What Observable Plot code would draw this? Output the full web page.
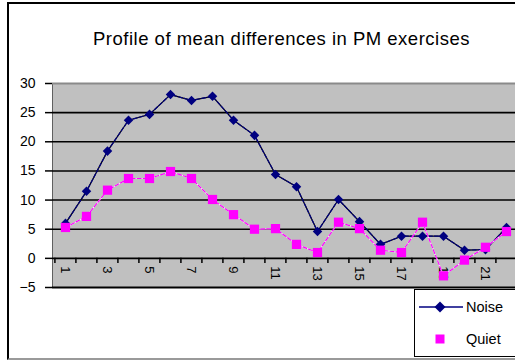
<!DOCTYPE html>
<html>
<head>
<meta charset="utf-8">
<script src="https://cdn.jsdelivr.net/npm/d3@7"></script>
<script src="https://cdn.jsdelivr.net/npm/@observablehq/plot@0.6"></script>
<style>
  html, body { margin: 0; padding: 0; background: white; overflow: hidden; }
  #wrap { position: relative; width: 515px; height: 360px; font-family: "Liberation Sans", Arial, sans-serif; }
  #border { position: absolute; left: 7px; top: 2px; width: 520px; height: 354px; border-left: 2px solid #000; border-top: 2px solid #000; border-bottom: 2px solid #9a9a9a; }
  #chart { position: absolute; left: 0; top: 0; }
  #legend { position: absolute; left: 414px; top: 289px; width: 120px; height: 66px; border: 1.5px solid #000; background: white; font-size: 14.5px; color: #000; }
  .item { position: absolute; left: 4px; display: flex; align-items: center; }
  .item span { margin-left: 3px; }
</style>
</head>
<body>
<div id="wrap">
  <div id="border"></div>
  <div id="chart"></div>
  <div id="legend"></div>
</div>
<script>
const title = "Profile of mean differences in PM exercises";
const categories = [1, 2, 3, 4, 5, 6, 7, 8, 9, 10, 11, 12, 13, 14, 15, 16, 17, 18, 19, 20, 21, 22];
const noise = [6.0, 11.5, 18.4, 23.7, 24.7, 28.1, 27.1, 27.8, 23.7, 21.1, 14.4, 12.3, 4.6, 10.1, 6.3, 2.4, 3.8, 3.8, 3.8, 1.4, 1.5, 5.3];
const quiet = [5.3, 7.2, 11.7, 13.7, 13.7, 14.9, 13.7, 10.1, 7.5, 5.0, 5.1, 2.4, 1.0, 6.2, 5.1, 1.4, 1.0, 6.2, -3.0, -0.3, 1.9, 4.6];
const xTickLabels = [1, 3, 5, 7, 9, 11, 13, 15, 17, 19, 21];
const yTicks = [-5, 0, 5, 10, 15, 20, 25, 30];
const seriesNames = ["Noise", "Quiet"];
const seriesColors = ["#000080", "#ff00ff"];

const noiseData = categories.map((c, i) => ({cat: c, value: noise[i]}));
const quietData = categories.map((c, i) => ({cat: c, value: quiet[i]}));
const step = (518 - 52) / categories.length;

const chart = Plot.plot({
  width: 515,
  height: 360,
  marginLeft: 52,
  marginRight: 0,
  marginTop: 83,
  marginBottom: 73,
  style: {background: "transparent", fontFamily: "Liberation Sans, Arial, sans-serif", fontSize: "14px", color: "#000", overflow: "visible"},
  x: {type: "point", domain: categories, range: [52, 518], padding: 0.5, axis: null},
  y: {domain: [-5, 30], ticks: yTicks, tickSize: 7, tickPadding: 10, label: null, line: true},
  marks: [
    Plot.frame({fill: "#c0c0c0", stroke: null}),
    Plot.ruleY(yTicks.filter(v => v > 0 && v < 30), {stroke: "#000", strokeWidth: 1.6}),
    Plot.ruleY([30], {stroke: "#8a8a8a", strokeWidth: 2}),
    Plot.ruleY([-5], {stroke: "#000", strokeWidth: 2}),
    Plot.ruleY([0], {stroke: "#000", strokeWidth: 1.6}),
    Plot.ruleX(categories, {x: d => d, y1: 0, y2: -0.9, dx: -step / 2, stroke: "#000", strokeWidth: 1.5}),
    Plot.text(xTickLabels, {x: d => d, y: 0, dy: 8, rotate: 90, textAnchor: "start", lineAnchor: "middle", fontSize: 13, fill: "#000"}),
    Plot.line(noiseData, {x: "cat", y: "value", stroke: "#000", strokeWidth: 1.2}),
    Plot.line(noiseData, {x: "cat", y: "value", stroke: seriesColors[0], strokeWidth: 1.2, strokeDasharray: "4,2"}),
    Plot.line(quietData, {x: "cat", y: "value", stroke: "#fff", strokeWidth: 1.2}),
    Plot.line(quietData, {x: "cat", y: "value", stroke: seriesColors[1], strokeWidth: 1.2, strokeDasharray: "4,2"}),
    Plot.dot(noiseData, {x: "cat", y: "value", symbol: "diamond2", r: 4.3, fill: seriesColors[0], stroke: null}),
    Plot.dot(quietData, {x: "cat", y: "value", symbol: "square", r: 5.2, fill: seriesColors[1], stroke: null}),
    Plot.text([title], {frameAnchor: "top", dx: -2.5, dy: -44, lineAnchor: "middle", fontSize: 18.5, fill: "#000", className: "title"})
  ]
});
chart.querySelectorAll("g[aria-label='y-axis tick'] path, g[aria-label='y-axis'] path").forEach(p => p.setAttribute("stroke-width", "1.5"));
chart.querySelectorAll(".title text").forEach(t => t.setAttribute("letter-spacing", "0.5"));
document.getElementById("chart").appendChild(chart);

const legend = document.getElementById("legend");
legend.innerHTML = `
  <div class="item" style="top:9px">
    <svg width="44" height="14"><line x1="0" y1="7" x2="44" y2="7" stroke="${seriesColors[0]}" stroke-width="1.5"/><path d="M21,1.5 L26.5,7 L21,12.5 L15.5,7 Z" fill="${seriesColors[0]}"/></svg>
    <span>${seriesNames[0]}</span>
  </div>
  <div class="item" style="top:41px">
    <svg width="44" height="14"><rect x="16.5" y="2.5" width="9" height="9" fill="${seriesColors[1]}"/></svg>
    <span>${seriesNames[1]}</span>
  </div>`;
</script>
</body>
</html>
